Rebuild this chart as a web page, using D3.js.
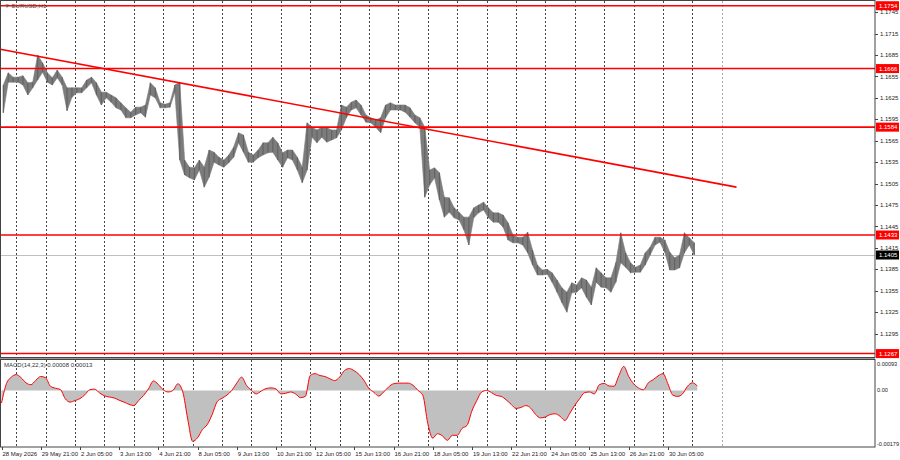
<!DOCTYPE html>
<html>
<head>
<meta charset="utf-8">
<script src="https://cdnjs.cloudflare.com/ajax/libs/d3/7.8.5/d3.min.js"></script>
<style>
body { margin: 0; background: #fff; }
svg text { font-family: "Liberation Sans", Arial, sans-serif; font-size: 6px; }
</style>
</head>
<body>
<script>
// EURUSD H1 - one entry per block of 4 hourly bars
var highs = [
	1.1643, 1.1660, 1.1654, 1.1654, 1.1656, 1.1646, 1.1647, 1.1685, 1.1674, 1.1660,
	1.1653, 1.1664, 1.1654, 1.1639, 1.1639, 1.1639, 1.1639, 1.1650, 1.1654, 1.1646,
	1.1633, 1.1633, 1.1629, 1.1625, 1.1618, 1.1611, 1.1605, 1.1612, 1.1612, 1.1615,
	1.1646, 1.1639, 1.1618, 1.1616, 1.1618, 1.1643, 1.1647, 1.1538, 1.1528, 1.1527,
	1.1538, 1.1528, 1.1552, 1.1549, 1.1542, 1.1538, 1.1545, 1.1556, 1.1576, 1.1573,
	1.1549, 1.1545, 1.1552, 1.1562, 1.1562, 1.1570, 1.1562, 1.1548, 1.1552, 1.1552,
	1.1542, 1.1528, 1.1590, 1.1584, 1.1580, 1.1584, 1.1583, 1.1580, 1.1580, 1.1615,
	1.1612, 1.1619, 1.1622, 1.1615, 1.1601, 1.1597, 1.1594, 1.1597, 1.1615, 1.1618,
	1.1615, 1.1615, 1.1615, 1.1611, 1.1601, 1.1597, 1.1584, 1.1524, 1.1527, 1.1520,
	1.1486, 1.1485, 1.1471, 1.1465, 1.1458, 1.1458, 1.1471, 1.1475, 1.1479, 1.1471,
	1.1464, 1.1464, 1.1461, 1.1450, 1.1433, 1.1430, 1.1430, 1.1437, 1.1412, 1.1391,
	1.1384, 1.1385, 1.1380, 1.1370, 1.1359, 1.1353, 1.1366, 1.1363, 1.1373, 1.1370,
	1.1360, 1.1387, 1.1380, 1.1373, 1.1373, 1.1394, 1.1436, 1.1408, 1.1394, 1.1388,
	1.1391, 1.1408, 1.1416, 1.1430, 1.1430, 1.1426, 1.1409, 1.1401, 1.1405, 1.1436,
	1.1429, 1.1422
];
var lows = [
	1.1604, 1.1647, 1.1647, 1.1647, 1.1643, 1.1629, 1.1639, 1.1650, 1.1661, 1.1647,
	1.1643, 1.1653, 1.1643, 1.1607, 1.1626, 1.1632, 1.1632, 1.1639, 1.1646, 1.1629,
	1.1615, 1.1625, 1.1619, 1.1611, 1.1608, 1.1597, 1.1597, 1.1601, 1.1604, 1.1598,
	1.1629, 1.1625, 1.1611, 1.1611, 1.1612, 1.1633, 1.1538, 1.1517, 1.1513, 1.1510,
	1.1524, 1.1500, 1.1514, 1.1535, 1.1531, 1.1528, 1.1534, 1.1542, 1.1562, 1.1549,
	1.1535, 1.1535, 1.1541, 1.1545, 1.1548, 1.1549, 1.1538, 1.1528, 1.1541, 1.1538,
	1.1524, 1.1506, 1.1524, 1.1570, 1.1562, 1.1570, 1.1563, 1.1566, 1.1569, 1.1580,
	1.1597, 1.1608, 1.1611, 1.1601, 1.1591, 1.1590, 1.1584, 1.1576, 1.1597, 1.1608,
	1.1608, 1.1608, 1.1605, 1.1598, 1.1590, 1.1584, 1.1486, 1.1503, 1.1513, 1.1482,
	1.1458, 1.1465, 1.1457, 1.1454, 1.1440, 1.1419, 1.1457, 1.1464, 1.1468, 1.1457,
	1.1451, 1.1451, 1.1444, 1.1426, 1.1422, 1.1422, 1.1419, 1.1408, 1.1391, 1.1377,
	1.1377, 1.1378, 1.1367, 1.1353, 1.1338, 1.1325, 1.1352, 1.1353, 1.1359, 1.1346,
	1.1335, 1.1367, 1.1360, 1.1359, 1.1353, 1.1367, 1.1394, 1.1388, 1.1380, 1.1381,
	1.1381, 1.1391, 1.1405, 1.1419, 1.1423, 1.1409, 1.1384, 1.1384, 1.1387, 1.1408,
	1.1419, 1.1405
];
// MACD main value, read every 4 bars
var macd = [
	-0.00040, 0.00021, 0.00042, 0.00050, 0.00040, 0.00024, 0.00018, 0.00032, 0.00044, 0.00040,
	0.00013, 0.00007, 0.00003, -0.00026, -0.00037, -0.00032, -0.00026, -0.00014, 0.00002, 0.00004,
	-0.00008, -0.00017, -0.00021, -0.00024, -0.00031, -0.00037, -0.00044, -0.00048, -0.00032, -0.00016,
	0.00005, 0.00030, 0.00019, 0.00002, -0.00005, 0.00000, 0.00021, -0.00005, -0.00090, -0.00161,
	-0.00150, -0.00124, -0.00108, -0.00076, -0.00036, -0.00025, -0.00015, 0.00000, 0.00023, 0.00042,
	0.00016, 0.00000, -0.00011, -0.00002, 0.00006, 0.00008, 0.00005, -0.00011, -0.00009, -0.00005,
	-0.00011, -0.00023, -0.00019, 0.00047, 0.00053, 0.00047, 0.00044, 0.00037, 0.00031, 0.00042,
	0.00063, 0.00069, 0.00062, 0.00050, 0.00031, 0.00006, -0.00006, -0.00018, -0.00005, 0.00011,
	0.00021, 0.00023, 0.00023, 0.00023, 0.00016, 0.00000, -0.00016, -0.00105, -0.00151, -0.00137,
	-0.00144, -0.00158, -0.00142, -0.00142, -0.00120, -0.00111, -0.00065, -0.00032, -0.00005, 0.00000,
	-0.00007, -0.00016, -0.00019, -0.00030, -0.00044, -0.00057, -0.00054, -0.00048, -0.00056, -0.00076,
	-0.00087, -0.00084, -0.00076, -0.00074, -0.00082, -0.00095, -0.00072, -0.00047, -0.00026, -0.00007,
	-0.00005, -0.00011, 0.00018, 0.00022, 0.00014, 0.00013, 0.00047, 0.00076, 0.00044, 0.00021,
	0.00008, 0.00002, 0.00024, 0.00034, 0.00046, 0.00053, 0.00021, -0.00015, -0.00019, -0.00011,
	0.00013, 0.00024, 0.00014
];
var timeLabels = ["28 May 2026", "29 May 21:00", "2 Jun 05:00", "3 Jun 13:00", "4 Jun 21:00",
	"8 Jun 05:00", "9 Jun 13:00", "10 Jun 21:00", "12 Jun 05:00", "15 Jun 13:00", "16 Jun 21:00",
	"18 Jun 05:00", "19 Jun 13:00", "22 Jun 21:00", "24 Jun 05:00", "25 Jun 13:00", "26 Jun 21:00",
	"30 Jun 05:00"];
var priceTicks = [1.1745, 1.1715, 1.1685, 1.1655, 1.1625, 1.1595, 1.1565, 1.1535, 1.1505,
	1.1475, 1.1445, 1.1415, 1.1385, 1.1355, 1.1325, 1.1295];
var levels = [1.1754, 1.1666, 1.1584, 1.1433, 1.1267];
var lastPrice = 1.1405;
var trend = [{bar: -1, price: 1.1693}, {bar: 600, price: 1.1500}];
var macdTicks = [0.00093, 0, -0.00179];
var macdTickText = ["0.00093", "0.00", "-0.00179"];
var barsPerBlock = 4, barsPerLabel = 32;

var width = 900, height = 460, plotRight = 875;
var priceBottom = 357, macdTop = 360, macdBottom = 447;

var svg = d3.select("body").append("svg")
	.attr("width", width)
	.attr("height", height)
	.style("background", "#fff");

var x = d3.scaleLinear().domain([0, 568]).range([1.5, 697.3]);
var y = d3.scaleLinear().domain([1.1762, 1.1762 - 0.00014 * priceBottom]).range([0, priceBottom]);
var m = d3.scaleLinear().domain([0.00093, -0.00179]).range([361, macdBottom]);

var px = v => Math.round(v) + 0.5;

// vertical dotted grid, every 24 bars
var gridBars = d3.range(12, 589, 24);
[[1, priceBottom], [macdTop, macdBottom]].forEach(r => {
	svg.append("g").selectAll("line")
		.data(gridBars)
		.join("line")
		.attr("x1", d => px(x(d))).attr("x2", d => px(x(d)))
		.attr("y1", r[0]).attr("y2", r[1])
		.attr("stroke", (d, i) => i == gridBars.length - 1 ? "#aaa" : "#444")
		.attr("stroke-dasharray", "2,2")
		.attr("stroke-width", 1);
});

// last price line
svg.append("line")
	.attr("x1", 1).attr("x2", plotRight)
	.attr("y1", px(y(lastPrice))).attr("y2", px(y(lastPrice)))
	.attr("stroke", "#c0c0c0");

// price band: high/low range of each 4-bar block
var mid = i => x(i * barsPerBlock + 1.5);
var band = d3.area()
	.x((d, i) => mid(i))
	.y0((d, i) => y(lows[i]))
	.y1(d => y(d));
svg.append("path")
	.datum(highs)
	.attr("d", band)
	.attr("fill", "#7c7c7c")
	.attr("stroke", "#7c7c7c")
	.attr("stroke-width", 0.6);
svg.append("g").selectAll("line")
	.data(highs)
	.join("line")
	.attr("x1", (d, i) => mid(i)).attr("x2", (d, i) => mid(i))
	.attr("y1", d => y(d)).attr("y2", (d, i) => y(lows[i]))
	.attr("stroke", "#626262")
	.attr("stroke-width", 1.1);

// levels
svg.append("g").selectAll("line")
	.data(levels)
	.join("line")
	.attr("x1", 1).attr("x2", plotRight)
	.attr("y1", d => y(d)).attr("y2", d => y(d))
	.attr("stroke", "#ff0000")
	.attr("stroke-width", 1.6);

svg.append("line")
	.attr("x1", x(trend[0].bar)).attr("y1", y(trend[0].price))
	.attr("x2", x(trend[1].bar)).attr("y2", y(trend[1].price))
	.attr("stroke", "#ff0000")
	.attr("stroke-width", 1.6);

// macd
var area = d3.area()
	.x((d, i) => x(i * barsPerBlock))
	.y0(m(0))
	.y1(d => m(d))
	.curve(d3.curveMonotoneX);
var line = d3.line()
	.x((d, i) => x(i * barsPerBlock))
	.y(d => m(d))
	.curve(d3.curveMonotoneX);

svg.append("path")
	.datum(macd)
	.attr("d", area)
	.attr("fill", "#c0c0c0");
svg.append("path")
	.datum(macd)
	.attr("d", line)
	.attr("fill", "none")
	.attr("stroke", "#ff0000")
	.attr("stroke-width", 1);

// frames
svg.append("rect")
	.attr("x", 0.5).attr("y", 0.5)
	.attr("width", plotRight - 0.5).attr("height", priceBottom)
	.attr("fill", "none").attr("stroke", "#444");
svg.append("rect")
	.attr("x", 0.5).attr("y", macdTop - 0.5)
	.attr("width", plotRight - 0.5).attr("height", macdBottom - macdTop + 0.5)
	.attr("fill", "none").attr("stroke", "#444");
svg.append("line")
	.attr("x1", 0).attr("x2", plotRight)
	.attr("y1", macdTop - 1.5).attr("y2", macdTop - 1.5)
	.attr("stroke", "#999");

// right price axis
var pAxis = svg.append("g");
pAxis.selectAll("line")
	.data(priceTicks)
	.join("line")
	.attr("x1", plotRight).attr("x2", plotRight + 3)
	.attr("y1", d => px(y(d))).attr("y2", d => px(y(d)))
	.attr("stroke", "#444");
pAxis.selectAll("text")
	.data(priceTicks)
	.join("text")
	.attr("x", plotRight + 5)
	.attr("y", d => y(d))
	.attr("dy", "0.35em")
	.attr("fill", "#222")
	.text(d => d.toFixed(4));

var tags = svg.append("g");
var tagData = levels.map(d => ({v: d, c: "#ff0000"})).concat([{v: lastPrice, c: "#000"}]);
tags.selectAll("rect")
	.data(tagData)
	.join("rect")
	.attr("x", plotRight + 1)
	.attr("y", d => y(d.v) - 4.5)
	.attr("width", 23)
	.attr("height", 9)
	.attr("fill", d => d.c);
tags.selectAll("text")
	.data(tagData)
	.join("text")
	.attr("x", plotRight + 4)
	.attr("y", d => y(d.v))
	.attr("dy", "0.35em")
	.attr("fill", "#fff")
	.text(d => d.v.toFixed(4));

// macd axis
svg.append("g").selectAll("text")
	.data(macdTicks)
	.join("text")
	.attr("x", plotRight + 2)
	.attr("y", (d, i) => m(d) + (i == 0 ? 3 : i == 2 ? -3 : 0))
	.attr("dy", "0.35em")
	.attr("fill", "#222")
	.style("font-size", "5.6px")
	.text((d, i) => macdTickText[i]);

// time axis
var tAxis = svg.append("g");
tAxis.selectAll("line")
	.data(timeLabels)
	.join("line")
	.attr("x1", (d, i) => px(x(i * barsPerLabel))).attr("x2", (d, i) => px(x(i * barsPerLabel)))
	.attr("y1", macdBottom).attr("y2", macdBottom + 3)
	.attr("stroke", "#444");
tAxis.selectAll("text")
	.data(timeLabels)
	.join("text")
	.attr("x", (d, i) => x(i * barsPerLabel) + 1)
	.attr("y", 456)
	.attr("fill", "#222")
	.text(d => d);

// titles
svg.append("text")
	.attr("x", 4).attr("y", 8)
	.attr("fill", "#555")
	.text("\u25BC EURUSD,H1");
svg.append("text")
	.attr("x", 4).attr("y", 367)
	.attr("fill", "#333")
	.text("MACD(14,22,3) 0.00008 0.00013");
</script>
</body>
</html>
